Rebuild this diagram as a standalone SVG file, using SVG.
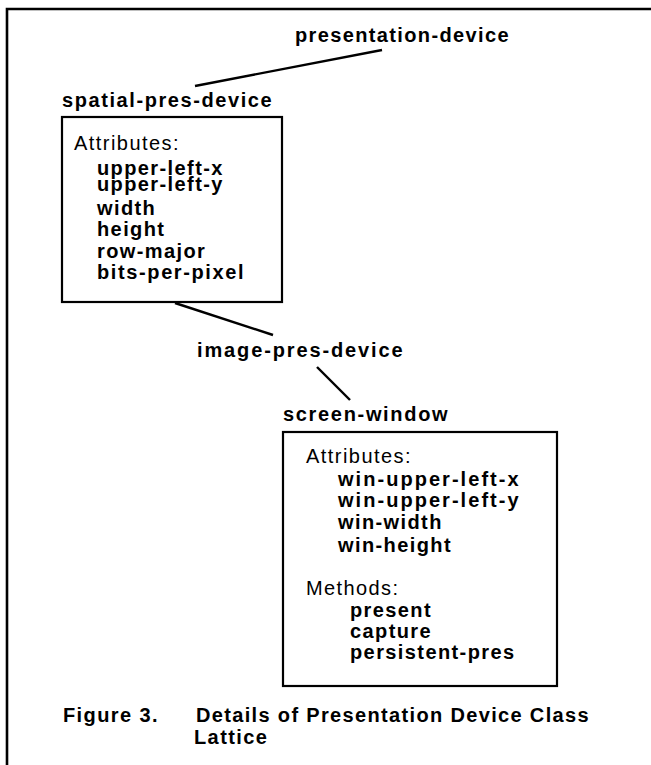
<svg xmlns="http://www.w3.org/2000/svg" width="651" height="765" viewBox="0 0 651 765">
<style>
  text { font-family: "Liberation Sans", Arial, sans-serif; font-size: 20px; fill: #000; letter-spacing: 1.4px; }
  .b { font-weight: bold; }
  .n { font-weight: normal; }
  .box { fill: none; stroke: #000; stroke-width: 2.2; }
  .frame { fill: none; stroke: #000; stroke-width: 2.6; }
  .conn line { stroke: #000; stroke-width: 2.4; }
</style>
<rect width="651" height="765" fill="#fff"/>
<path class="frame" d="M7,767 L7,9 L653,9"/>

<g id="connectors" class="conn">
  <line x1="195" y1="86" x2="382" y2="50"/>
  <line x1="175" y1="303" x2="273" y2="335"/>
  <line x1="317" y1="367" x2="350" y2="400"/>
</g>

<g id="presentation-device">
  <text class="b" x="295" y="42" textLength="215" lengthAdjust="spacing">presentation-device</text>
</g>

<g id="spatial-pres-device">
  <text class="b" x="62" y="107" textLength="211" lengthAdjust="spacing">spatial-pres-device</text>
  <rect class="box" x="62" y="117" width="220" height="185"/>
  <text class="n" x="74" y="150" textLength="106" lengthAdjust="spacing">Attributes:</text>
  <text class="b" x="97" y="175">upper-left-x</text>
  <text class="b" x="97" y="191">upper-left-y</text>
  <text class="b" x="97" y="215">width</text>
  <text class="b" x="97" y="236">height</text>
  <text class="b" x="97" y="258">row-major</text>
  <text class="b" x="97" y="279" textLength="148" lengthAdjust="spacing">bits-per-pixel</text>
</g>

<g id="image-pres-device">
  <text class="b" x="197" y="357" textLength="207" lengthAdjust="spacing">image-pres-device</text>
</g>

<g id="screen-window">
  <text class="b" x="283" y="421" textLength="166" lengthAdjust="spacing">screen-window</text>
  <rect class="box" x="283" y="432" width="274" height="254"/>
  <text class="n" x="306" y="463" textLength="106" lengthAdjust="spacing">Attributes:</text>
  <text class="b" x="338" y="486" textLength="182" lengthAdjust="spacing">win-upper-left-x</text>
  <text class="b" x="338" y="507" textLength="182" lengthAdjust="spacing">win-upper-left-y</text>
  <text class="b" x="338" y="529">win-width</text>
  <text class="b" x="338" y="552">win-height</text>
  <text class="n" x="306" y="595">Methods:</text>
  <text class="b" x="350" y="617">present</text>
  <text class="b" x="350" y="638">capture</text>
  <text class="b" x="350" y="659">persistent-pres</text>
</g>

<g id="caption">
  <text class="b" x="63" y="722">Figure 3.</text>
  <text class="b" x="196" y="722" textLength="394" lengthAdjust="spacing">Details of Presentation Device Class</text>
  <text class="b" x="194" y="744">Lattice</text>
</g>
</svg>
